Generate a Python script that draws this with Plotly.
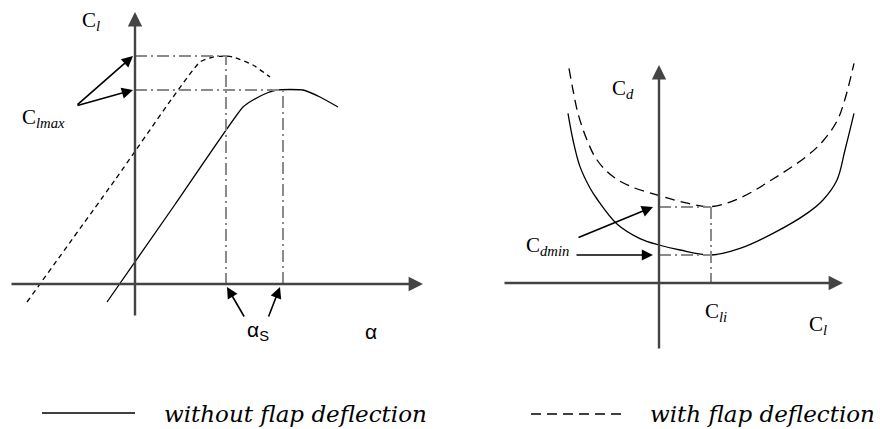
import plotly.graph_objects as go

# ---- Lift curve: angle of attack (deg) vs lift coefficient ----
alpha_plain = [-2.8, 4.0, 10.8, 11.8, 13.2, 14.2, 15.5, 16.8, 18.5, 20.3]
cl_plain = [-0.18, 0.795, 1.77, 1.84, 1.91, 1.94, 1.945, 1.94, 1.87, 1.77]
alpha_flap = [-10.8, -2.0, 6.5, 7.8, 9.0, 9.8, 11.8, 13.5]
cl_flap = [-0.18, 1.04, 2.22, 2.27, 2.28, 2.27, 2.19, 2.07]

clmax_plain, alpha_stall_plain = 1.94, 14.8
clmax_flap, alpha_stall_flap = 2.28, 9.1

# ---- Drag polar: lift coefficient vs drag coefficient ----
cl_polar_plain = [-0.91, -0.86, -0.79, -0.69, -0.62, -0.42, -0.19, 0.0, 0.21, 0.52,
                  0.81, 1.14, 1.48, 1.64, 1.78, 1.86, 1.95]
cd_polar_plain = [0.0848, 0.0715, 0.0582, 0.0475, 0.042, 0.0295, 0.0222, 0.019, 0.0165, 0.014,
                  0.0173, 0.0248, 0.0348, 0.0415, 0.0515, 0.0665, 0.0848]
cl_polar_flap = [-0.90, -0.86, -0.81, -0.72, -0.62, -0.46, -0.26, 0.0, 0.21, 0.52,
                 0.81, 1.14, 1.48, 1.64, 1.78, 1.86, 1.95]
cd_polar_flap = [0.1073, 0.0965, 0.0848, 0.0715, 0.0615, 0.0532, 0.0478, 0.0438, 0.0408, 0.0382,
                 0.0425, 0.052, 0.0635, 0.071, 0.081, 0.092, 0.1098]

cl_design = 0.52
cdmin_plain, cdmin_flap = 0.014, 0.038

legend_labels = ["without flap deflection", "with flap deflection"]

SERIF = "Liberation Serif"
SANS = "Liberation Sans"
GUIDE = "#8a8a8a"

fig = go.Figure()

# curves
fig.add_trace(go.Scatter(x=alpha_plain, y=cl_plain, mode="lines",
                         line=dict(color="black", width=1.3, shape="spline", smoothing=0.5),
                         xaxis="x", yaxis="y"))
fig.add_trace(go.Scatter(x=alpha_flap, y=cl_flap, mode="lines",
                         line=dict(color="black", width=1.3, dash="5px,4px", shape="spline", smoothing=0.5),
                         xaxis="x", yaxis="y"))
fig.add_trace(go.Scatter(x=cl_polar_plain, y=cd_polar_plain, mode="lines",
                         line=dict(color="black", width=1.3, shape="spline", smoothing=1.0),
                         xaxis="x2", yaxis="y2"))
fig.add_trace(go.Scatter(x=cl_polar_flap, y=cd_polar_flap, mode="lines",
                         line=dict(color="black", width=1.3, dash="10px,6px", shape="spline", smoothing=1.0),
                         xaxis="x2", yaxis="y2"))

# guide lines (dash-dot) to the stall points and the minimum-drag points
guide = dict(color=GUIDE, width=2, dash="12px,4px,2px,4px")
for a, c in [(alpha_stall_flap, clmax_flap), (alpha_stall_plain, clmax_plain)]:
    fig.add_trace(go.Scatter(x=[0, a, a], y=[c, c, 0], mode="lines", line=guide,
                             xaxis="x", yaxis="y"))
for cd in [cdmin_flap, cdmin_plain]:
    fig.add_trace(go.Scatter(x=[0, cl_design], y=[cd, cd], mode="lines", line=guide,
                             xaxis="x2", yaxis="y2"))
fig.add_trace(go.Scatter(x=[cl_design, cl_design], y=[cdmin_flap, 0], mode="lines", line=guide,
                         xaxis="x2", yaxis="y2"))

ann = []


def arrow(x, y, ax, ay, xr, yr, width=1.6, color="black", size=1.4):
    ann.append(dict(x=x, y=y, ax=ax, ay=ay, xref=xr, yref=yr, axref=xr, ayref=yr,
                    text="", showarrow=True, arrowhead=2, arrowsize=size,
                    arrowwidth=width, arrowcolor=color))


def label(x, y, text, xr, yr, font=SERIF, size=21):
    ann.append(dict(x=x, y=y, xref=xr, yref=yr, text=text, showarrow=False,
                    xanchor="center", yanchor="middle",
                    font=dict(family=font, size=size, color="black")))


# coordinate axes with arrowheads
AX = "#444444"
arrow(0, 2.72, 0, -0.33, "x", "y", width=2.4, color=AX, size=1.2)
arrow(28.8, 0, -12.5, 0, "x", "y", width=2.4, color=AX, size=1.2)
arrow(0, 0.109, 0, -0.0335, "x2", "y2", width=2.4, color=AX, size=1.2)
arrow(1.84, 0, -1.56, 0, "x2", "y2", width=2.4, color=AX, size=1.2)

# pointer arrows
arrow(-0.2, clmax_flap, -5.9, 1.78, "x", "y")
arrow(-0.2, clmax_plain, -5.9, 1.78, "x", "y")
arrow(alpha_stall_flap + 0.1, -0.03, 11.0, -0.34, "x", "y")
arrow(alpha_stall_plain - 0.3, -0.03, 13.3, -0.34, "x", "y")
arrow(-0.06, cdmin_flap, -0.82, 0.0225, "x2", "y2")
arrow(-0.06, cdmin_plain, -0.84, cdmin_plain, "x2", "y2")

# labels
label(-4.4, 2.63, "C<sub><i>l</i></sub>", "x", "y")
label(-9.2, 1.66, "C<sub><i>lmax</i></sub>", "x", "y")
label(12.3, -0.47, "α<sub>S</sub>", "x", "y", font=SANS, size=21)
label(23.6, -0.47, "α", "x", "y", font=SANS, size=21)
label(-0.36, 0.097, "C<sub><i>d</i></sub>", "x2", "y2")
label(-1.12, 0.0185, "C<sub><i>dmin</i></sub>", "x2", "y2")
label(0.57, -0.0145, "C<sub><i>li</i></sub>", "x2", "y2")
label(1.59, -0.021, "C<sub><i>l</i></sub>", "x2", "y2")

# key at the bottom
W, H = 880, 429
shapes = [
    dict(type="line", xref="paper", yref="paper", x0=42 / W, x1=135 / W,
         y0=1 - 413 / H, y1=1 - 413 / H, line=dict(color="black", width=1.3)),
    dict(type="line", xref="paper", yref="paper", x0=531 / W, x1=622 / W,
         y0=1 - 414 / H, y1=1 - 414 / H, line=dict(color="black", width=1.3, dash="10px,6px")),
]
for xpos, txt in [(162, legend_labels[0]), (648, legend_labels[1])]:
    ann.append(dict(x=xpos / W, y=1 - 414 / H, xref="paper", yref="paper",
                    text="<i>" + txt + "</i>", showarrow=False,
                    xanchor="left", yanchor="middle",
                    font=dict(family="DejaVu Serif", size=23, color="black")))

hidden = dict(visible=False, showgrid=False, zeroline=False, fixedrange=True)
fig.update_layout(
    width=W, height=H,
    margin=dict(l=0, r=0, t=0, b=0),
    paper_bgcolor="white", plot_bgcolor="white",
    showlegend=False,
    xaxis=dict(domain=[0, 0.5], range=[-13.5, 30.5], anchor="y", **hidden),
    yaxis=dict(domain=[0, 1], range=[-1.45, 2.84], anchor="x", **hidden),
    xaxis2=dict(domain=[0.5, 1], range=[-2.19, 2.21], anchor="y2", **hidden),
    yaxis2=dict(domain=[0, 1], range=[-0.073, 0.1415], anchor="x2", **hidden),
    annotations=ann,
    shapes=shapes,
)

fig.write_html("out.html")
